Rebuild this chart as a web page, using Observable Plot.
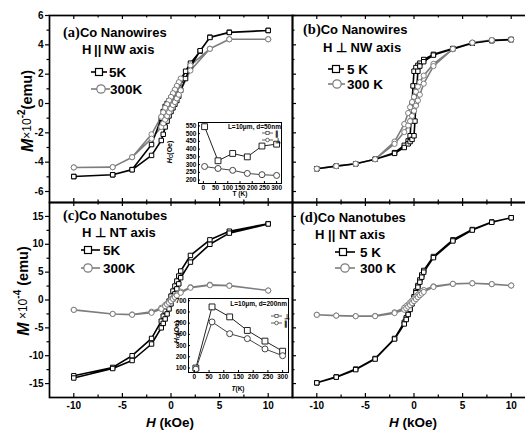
<!DOCTYPE html>
<html><head><meta charset="utf-8">
<script src="https://cdn.jsdelivr.net/npm/d3@7"></script>
<script src="https://cdn.jsdelivr.net/npm/@observablehq/plot@0.6"></script>
<style>
html,body{margin:0;padding:0;overflow:hidden;background:#fff;}
#root{position:relative;width:525px;height:432px;overflow:hidden;}
#root > svg{position:absolute;}
</style></head><body><div id="root"></div>
<script>
// ---------- DATA ----------
// Panel (a) Co nanowires, H || NW axis (M in 1e-2 emu, H in kOe)
const a5DescH = [10,6,4,3,2,1.5,1,0.8,0.6,0.4,0.2,0,-0.2,-0.4,-0.6,-0.8,-1,-2,-4,-6,-10];
const a5DescM = [4.98,4.86,4.52,3.57,2.75,2.2,1.6,1.35,1.1,0.85,0.6,0.38,0.18,0.0,-0.2,-0.55,-1.0,-2.8,-4.5,-4.86,-4.98];
const a5AscH  = [-10,-6,-4,-2,-1,-0.8,-0.6,-0.4,-0.2,0,0.2,0.4,0.6,0.8,1,1.5,2,3,4,6,10];
const a5AscM  = [-4.98,-4.86,-4.52,-3.54,-2.52,-2.1,-1.6,-1.2,-0.85,-0.55,-0.3,-0.05,0.2,0.5,0.9,1.7,2.5,3.6,4.5,4.84,4.98];
const a300DescH = [10,6,4,2,1,0.8,0.6,0.4,0.2,0,-0.2,-0.4,-0.6,-0.8,-1,-2,-4,-6,-10];
const a300DescM = [4.38,4.38,3.73,2.6,1.7,1.45,1.2,0.95,0.7,0.45,0.2,-0.05,-0.3,-0.6,-0.9,-2.1,-3.66,-4.34,-4.36];
const a300AscH  = [-10,-6,-4,-2,-1,-0.8,-0.6,-0.4,-0.2,0,0.2,0.4,0.6,0.8,1,2,4,6,10];
const a300AscM  = [-4.36,-4.34,-3.66,-2.4,-1.6,-1.35,-1.1,-0.85,-0.6,-0.35,-0.1,0.1,0.35,0.6,0.9,2.25,3.73,4.38,4.38];

// Panel (b) Co nanowires, H perpendicular to NW axis
const b5DescH = [10,8,6,4,2,1,0.6,0.4,0.2,0,-0.1,-0.2,-0.3,-0.4,-0.6,-1,-2,-4,-6,-8,-10];
const b5DescM = [4.36,4.29,4.11,3.75,3.35,3.0,2.75,2.6,2.45,2.2,1.2,0.0,-1.2,-2.2,-2.55,-2.85,-3.35,-3.8,-4.11,-4.27,-4.45];
const b5AscH  = [-10,-8,-6,-4,-2,-1,-0.6,-0.4,-0.2,0,0.1,0.2,0.3,0.4,0.6,1,2,4,6,8,10];
const b5AscM  = [-4.45,-4.27,-4.11,-3.8,-3.4,-3.0,-2.75,-2.6,-2.45,-2.2,-1.2,0.0,1.2,2.2,2.55,2.85,3.3,3.72,4.11,4.29,4.36];
const b300DescH = [10,8,6,4,2,1,0.6,0.4,0.2,0,-0.2,-0.4,-0.6,-1,-2,-4,-6,-8,-10];
const b300DescM = [4.36,4.32,4.15,3.7,2.7,1.9,1.45,1.15,0.8,0.45,0.1,-0.25,-0.65,-1.4,-2.6,-3.8,-4.11,-4.27,-4.45];
const b300AscH  = [-10,-8,-6,-4,-2,-1,-0.6,-0.4,-0.2,0,0.2,0.4,0.6,1,2,4,6,8,10];
const b300AscM  = [-4.45,-4.27,-4.11,-3.8,-2.75,-1.95,-1.5,-1.2,-0.85,-0.5,-0.15,0.2,0.6,1.35,2.55,3.72,4.15,4.32,4.36];

// Panel (c) Co nanotubes, H perpendicular to NT axis (M in 1e-4 emu)
const c5DescH = [10,6,4,2,1,0.8,0.6,0.4,0.2,0,-0.2,-0.4,-0.6,-0.8,-1,-2,-4,-6,-10];
const c5DescM = [13.7,12.35,10.8,8.0,5.2,4.3,3.4,2.5,1.6,0.7,-0.2,-1.1,-2.0,-2.9,-3.8,-6.9,-10.0,-12.1,-13.6];
const c5AscH  = [-10,-6,-4,-2,-1,-0.8,-0.6,-0.4,-0.2,0,0.2,0.4,0.6,0.8,1,2,4,6,10];
const c5AscM  = [-14.0,-12.3,-10.86,-7.9,-5.0,-4.2,-3.4,-2.5,-1.6,-0.7,0.2,1.1,2.0,2.9,4.0,6.8,10.0,12.0,13.65];
const c300DescH = [10,6,4,2,1,0.6,0.4,0.2,0,-0.2,-0.4,-0.6,-1,-2,-4,-6,-10];
const c300DescM = [1.7,2.6,2.75,2.3,1.5,1.0,0.7,0.4,0.1,-0.3,-0.6,-0.9,-1.4,-2.1,-2.6,-2.5,-1.77];
const c300AscH  = [-10,-6,-4,-2,-1,-0.6,-0.4,-0.2,0,0.2,0.4,0.6,1,2,4,6,10];
const c300AscM  = [-1.77,-2.5,-2.65,-2.3,-1.6,-1.1,-0.8,-0.5,-0.2,0.2,0.5,0.8,1.3,2.2,2.65,2.55,1.7];

// Panel (d) Co nanotubes, H || NT axis
const d5DescH = [10,8,6,4,2,1,0.8,0.6,0.4,0.2,0,-0.2,-0.4,-0.6,-0.8,-1,-2,-4,-6,-8,-10];
const d5DescM = [14.76,14.0,12.65,10.8,7.8,5.3,4.5,3.6,2.6,1.6,0.6,-0.4,-1.4,-2.3,-3.2,-4.0,-6.9,-10.5,-12.4,-13.8,-14.87];
const d5AscH  = [-10,-8,-6,-4,-2,-1,-0.8,-0.6,-0.4,-0.2,0,0.2,0.4,0.6,0.8,1,2,4,6,8,10];
const d5AscM  = [-14.87,-13.85,-12.5,-10.6,-7.0,-4.3,-3.5,-2.6,-1.7,-0.7,0.3,1.3,2.3,3.2,4.1,5.0,7.6,10.6,12.55,13.95,14.76];
const d300DescH = [10,8,6,4,2,1,0.8,0.6,0.4,0.2,0,-0.2,-0.4,-0.6,-0.8,-1,-2,-4,-6,-8,-10];
const d300DescM = [2.6,2.85,3.0,2.9,2.45,1.8,1.55,1.25,0.95,0.6,0.25,-0.1,-0.45,-0.8,-1.1,-1.4,-2.2,-2.85,-2.9,-2.8,-2.66];
const d300AscH  = [-10,-8,-6,-4,-2,-1,-0.8,-0.6,-0.4,-0.2,0,0.2,0.4,0.6,0.8,1,2,4,6,8,10];
const d300AscM  = [-2.66,-2.8,-2.9,-2.9,-2.35,-1.75,-1.5,-1.2,-0.9,-0.55,-0.2,0.15,0.5,0.85,1.15,1.45,2.35,2.9,3.0,2.85,2.6];

// Inset (a): coercivity vs temperature, nanowires d=50nm
const insetT = [5,60,120,180,240,300];
const insetAPar  = [545,325,372,350,420,432];   // squares, ||
const insetAPerp = [288,275,263,243,235,230];   // circles, perp
// Inset (c): nanotubes d=200nm
const insetCPerp = [100,645,556,435,340,250];   // squares, perp
const insetCPar  = [90,511,406,362,270,210];    // circles, ||

// Tick values
const xMajor = [-10,-5,0,5,10];
const xMinor = [-7.5,-2.5,2.5,7.5];
const yMajorTop = [-6,-4,-2,0,2,4,6];
const yMinorTop = [-5,-3,-1,1,3,5];
const yMajorBot = [-15,-10,-5,0,5,10,15];
const yMinorBot = [-12.5,-7.5,-2.5,2.5,7.5,12.5];
const insetTTicks = [0,50,100,150,200,250,300];
const insetAHcTicks = [200,250,300,350,400,450,500,550];
const insetCHcTicks = [100,200,300,400,500,600,700];

// ---------- DRAWING ----------
const SANS = "'Liberation Sans', Arial, Helvetica, sans-serif";
const SERIF = "'Liberation Serif', 'Times New Roman', serif";
const GRAY = "#7d7d7d";
const root = document.getElementById("root");

function rows(H, M){ return H.map((h,i)=>({H:h, M:M[i]})); }
function loop(dH,dM,aH,aM){ return rows(dH,dM).concat(rows(aH,aM)); }

function panel(o){
  const mt = 4, mr = 4, ml = o.ml, mb = o.mb;
  const w = o.w, h = o.h;
  const marks = [];
  marks.push(Plot.line(o.s300, {x:"H", y:"M", stroke:GRAY, strokeWidth:1.6}));
  marks.push(Plot.line(o.s5, {x:"H", y:"M", stroke:"black", strokeWidth:1.6}));
  marks.push(Plot.dot(o.s5, {x:"H", y:"M", symbol:"square", r:2.5, stroke:"black", fill:"white", strokeWidth:1}));
  marks.push(Plot.dot(o.s300, {x:"H", y:"M", symbol:"circle", r:2.6, stroke:GRAY, fill:"white", strokeWidth:1}));
  marks.push(Plot.tickX(xMajor, {x:d=>d, insetTop:h-4, stroke:"black", strokeWidth:1.2}));
  marks.push(Plot.tickX(xMinor, {x:d=>d, insetTop:h-2.5, stroke:"black", strokeWidth:1.2}));
  marks.push(Plot.tickX(xMajor, {x:d=>d, insetBottom:h-4, stroke:"black", strokeWidth:1.2}));
  marks.push(Plot.tickX(xMinor, {x:d=>d, insetBottom:h-2.5, stroke:"black", strokeWidth:1.2}));
  if (o.yLabels){
    marks.push(Plot.tickY(o.yMajor, {y:d=>d, insetLeft:-4, insetRight:w, stroke:"black", strokeWidth:1.2}));
    marks.push(Plot.tickY(o.yMinor, {y:d=>d, insetLeft:-2.5, insetRight:w, stroke:"black", strokeWidth:1.2}));
    marks.push(Plot.text(o.yMajor, {y:d=>d, text:d=>String(d), frameAnchor:"left", textAnchor:"end", dx:-6, fontSize:10, fontWeight:"bold", fill:"black"}));
  } else {
    marks.push(Plot.tickY(o.yMajor, {y:d=>d, insetRight:w-4, stroke:"black", strokeWidth:1.2}));
    marks.push(Plot.tickY(o.yMinor, {y:d=>d, insetRight:w-2.5, stroke:"black", strokeWidth:1.2}));
  }
  if (o.xLabels){
    marks.push(Plot.text(xMajor, {x:d=>d, text:d=>String(d), frameAnchor:"bottom", lineAnchor:"top", dy:4, fontSize:10, fontWeight:"bold", fill:"black"}));
  }
  marks.push(Plot.frame({stroke:"black", strokeWidth:1.7}));
  const svg = Plot.plot({
    width: ml+w+mr, height: mt+h+mb,
    marginLeft: ml, marginRight: mr, marginTop: mt, marginBottom: mb,
    x:{domain:[-12.5,12.5], axis:null},
    y:{domain:o.yDomain, axis:null},
    style:{fontFamily:SANS, background:"transparent", overflow:"visible"},
    marks
  });
  svg.style.left = (o.x0-ml)+"px";
  svg.style.top = (o.y0-mt)+"px";
  svg.style.maxWidth = "none";
  root.append(svg);
}

panel({x0:49, y0:15, w:243, h:187, ml:40, mb:4, yDomain:[-6.75,6], yMajor:yMajorTop, yMinor:yMinorTop, yLabels:true, xLabels:false,
  s5:loop(a5DescH,a5DescM,a5AscH,a5AscM), s300:loop(a300DescH,a300DescM,a300AscH,a300AscM)});
panel({x0:292, y0:15, w:243, h:187, ml:4, mb:4, yDomain:[-6.75,6], yMajor:yMajorTop, yMinor:yMinorTop, yLabels:false, xLabels:false,
  s5:loop(b5DescH,b5DescM,b5AscH,b5AscM), s300:loop(b300DescH,b300DescM,b300AscH,b300AscM)});
panel({x0:49, y0:202, w:243, h:195, ml:40, mb:30, yDomain:[-17.5,17.5], yMajor:yMajorBot, yMinor:yMinorBot, yLabels:true, xLabels:true,
  s5:loop(c5DescH,c5DescM,c5AscH,c5AscM), s300:loop(c300DescH,c300DescM,c300AscH,c300AscM)});
panel({x0:292, y0:202, w:243, h:195, ml:4, mb:30, yDomain:[-17.5,17.5], yMajor:yMajorBot, yMinor:yMinorBot, yLabels:false, xLabels:true,
  s5:loop(d5DescH,d5DescM,d5AscH,d5AscM), s300:loop(d300DescH,d300DescM,d300AscH,d300AscM)});

function inset(o){
  const ml = 30, mr = 2, mt = 2, mb = 16;
  const w = o.w, h = o.h;
  const sq = rows(insetT, o.sq), ci = rows(insetT, o.ci);
  const marks = [
    Plot.frame({fill:"white", stroke:null}),
    Plot.line(sq, {x:"H", y:"M", stroke:"#222", strokeWidth:1}),
    Plot.line(ci, {x:"H", y:"M", stroke:"#444", strokeWidth:1}),
    Plot.dot(sq, {x:"H", y:"M", symbol:"square", r:3.3, stroke:"#222", fill:"white", strokeWidth:1}),
    Plot.dot(ci, {x:"H", y:"M", symbol:"circle", r:3, stroke:"#444", fill:"white", strokeWidth:1}),
    Plot.tickX(insetTTicks, {x:d=>d, insetTop:h-2, stroke:"black"}),
    Plot.tickY(o.yTicks, {y:d=>d, insetRight:w-2, stroke:"black"}),
    Plot.text(o.yTicks, {y:d=>d, text:d=>String(d), frameAnchor:"left", textAnchor:"end", dx:-2, fontSize:6.5, fontWeight:"bold", fill:"black"}),
    Plot.text(insetTTicks, {x:d=>d, text:d=>String(d), frameAnchor:"bottom", lineAnchor:"top", dy:1.5, fontSize:6.5, fontWeight:"bold", fill:"black"}),
    Plot.frame({stroke:"black", strokeWidth:1})
  ];
  const svg = Plot.plot({
    width: ml+w+mr, height: mt+h+mb,
    marginLeft: ml, marginRight: mr, marginTop: mt, marginBottom: mb,
    x:{domain:[-20,320], axis:null}, y:{domain:o.yDomain, axis:null},
    style:{fontFamily:SANS, background:"transparent", overflow:"visible"},
    marks
  });
  svg.style.left = (o.x0-ml)+"px";
  svg.style.top = (o.y0-mt)+"px";
  svg.style.maxWidth = "none";
  root.append(svg);
}
inset({x0:198, y0:122, w:83, h:61, yDomain:[178,572], yTicks:insetAHcTicks, sq:insetAPar, ci:insetAPerp});
inset({x0:188, y0:298, w:100, h:74, yDomain:[60,720], yTicks:insetCHcTicks, sq:insetCPerp, ci:insetCPar});

// ---------- ANNOTATIONS ----------
const ov = d3.select(root).append("svg").attr("width",525).attr("height",432).style("left","0px").style("top","0px");
function addText(x, y, parts, opt={}){
  const t = ov.append("text").attr("x",x).attr("y",y)
    .attr("font-size", opt.size||14).attr("font-weight", opt.weight||"bold")
    .attr("font-family", SANS).attr("text-anchor", opt.anchor||"start")
    .attr("dominant-baseline","central").attr("fill","black");
  if (opt.rotate) t.attr("transform", `rotate(${opt.rotate},${x},${y})`);
  for (const p of parts){
    const s = t.append("tspan").text(p.t);
    if (p.italic) s.attr("font-style","italic");
    if (p.serif) s.attr("font-family", SERIF);
    if (p.size) s.attr("font-size", p.size);
    if (p.dy) s.attr("dy", p.dy);
    if (p.weight) s.attr("font-weight", p.weight);
  }
  return t;
}
function legendEntry(x1, x2, y, mx, kind, color, label, tx){
  ov.append("line").attr("x1",x1).attr("x2",x2).attr("y1",y).attr("y2",y).attr("stroke",color).attr("stroke-width",1.6);
  if (kind==="square") ov.append("rect").attr("x",mx-3.5).attr("y",y-3.5).attr("width",7).attr("height",7).attr("fill","white").attr("stroke",color).attr("stroke-width",1.2);
  else ov.append("circle").attr("cx",mx).attr("cy",y).attr("r",4.2).attr("fill","white").attr("stroke",color).attr("stroke-width",1.2);
  addText(tx, y, [{t:label}], {size:13.5});
}
function legendEntrySmall(x1, x2, y, kind, label){
  ov.append("line").attr("x1",x1).attr("x2",x2).attr("y1",y).attr("y2",y).attr("stroke","#333").attr("stroke-width",0.8);
  const mx = (x1+x2)/2;
  if (kind==="square") ov.append("rect").attr("x",mx-1.6).attr("y",y-1.6).attr("width",3.2).attr("height",3.2).attr("fill","white").attr("stroke","#333").attr("stroke-width",0.7);
  else ov.append("circle").attr("cx",mx).attr("cy",y).attr("r",1.8).attr("fill","white").attr("stroke","#333").attr("stroke-width",0.7);
  addText(x2+2, y, [{t:label}], {size:6.5});
}

// panel (a)
addText(63, 32, [{t:"(a)", serif:true, size:14.5},{t:"Co Nanowires"}], {size:13});
addText(82, 49, [{t:"H\u2009||\u2009NW axis"}], {size:13});
legendEntry(91, 107, 72, 99, "square", "black", "5K", 109);
legendEntry(91, 110, 89, 101, "circle", GRAY, "300K", 110);
// panel (b)
addText(303, 29, [{t:"(b)", serif:true, size:14.5},{t:"Co Nanowires"}], {size:13});
addText(323, 47, [{t:"H \u22a5 NW axis"}], {size:13});
legendEntry(328, 344, 69, 336, "square", "black", "5 K", 347);
legendEntry(328, 345, 84, 337, "circle", GRAY, "300 K", 347);
// panel (c)
addText(63, 215, [{t:"(c)", serif:true, size:14.5},{t:"Co Nanotubes"}], {size:13});
addText(82, 232, [{t:"H \u22a5  NT axis"}], {size:13});
legendEntry(81, 100, 250, 88, "square", "black", "5K", 103);
legendEntry(81, 100, 268, 88, "circle", GRAY, "300K", 103);
// panel (d)
addText(300, 217, [{t:"(d)", serif:true, size:14.5},{t:"Co Nanotubes"}], {size:13});
addText(315, 234, [{t:"H || NT axis"}], {size:13});
legendEntry(335, 355, 252, 343, "square", "black", "5 K", 360);
legendEntry(335, 355, 268, 345, "circle", GRAY, "300 K", 360);

// axis titles
addText(170, 422, [{t:"H", italic:true},{t:" (kOe)"}], {size:13.5, anchor:"middle"});
addText(413, 422, [{t:"H", italic:true},{t:" (kOe)"}], {size:13.5, anchor:"middle"});
addText(27, 111, [{t:"M", italic:true, size:16},{t:"\u00d710", weight:"normal", size:12},{t:"-2", size:10, dy:-6},{t:"(emu)", dy:6}], {size:14.5, anchor:"middle", rotate:-90});
addText(23, 291, [{t:"M", italic:true, size:16},{t:" \u00d710", weight:"normal", size:12},{t:"-4", size:10, dy:-6},{t:" (emu)", dy:6}], {size:14.5, anchor:"middle", rotate:-90});

// inset (a) labels
addText(281, 126, [{t:"L=10\u03bcm, d=50nm"}], {size:6.5, anchor:"end"});
legendEntrySmall(262, 273, 133, "square", "\u2225");
legendEntrySmall(262, 273, 140, "circle", "\u22a5");
addText(240, 193, [{t:"T (K)"}], {size:6.5, anchor:"middle"});
addText(169, 152, [{t:"H", italic:true},{t:"C", size:5, dy:2},{t:"(Oe)", dy:-2}], {size:7, anchor:"middle", rotate:-90});
// inset (c) labels
addText(287, 303, [{t:"L=10\u03bcm, d=200nm"}], {size:6.5, anchor:"end"});
legendEntrySmall(271, 282, 316, "square", "\u22a5");
legendEntrySmall(271, 282, 323, "circle", "\u2225");
addText(238, 388, [{t:"T", italic:true},{t:"(K)"}], {size:6.5, anchor:"middle"});
addText(176, 332, [{t:"H", italic:true},{t:"C", size:5, dy:2},{t:"(Oe)", dy:-2}], {size:7, anchor:"middle", rotate:-90});
</script></body></html>
